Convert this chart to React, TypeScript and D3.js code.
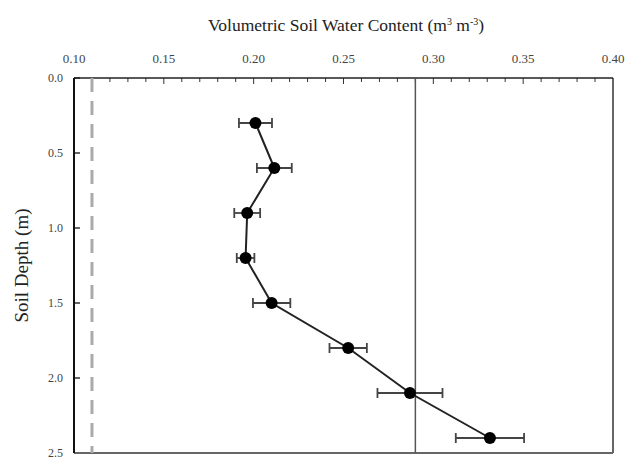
import React from "react";
import * as d3 from "d3";

const depths = [0.3, 0.6, 0.9, 1.2, 1.5, 1.8, 2.1, 2.4];
const swc = [0.201, 0.2115, 0.1964, 0.1955, 0.21, 0.2526, 0.287, 0.3315];
const swcErr = [0.0092, 0.0097, 0.0072, 0.0049, 0.0104, 0.0104, 0.0181, 0.019];
const xTicks = [0.1, 0.15, 0.2, 0.25, 0.3, 0.35, 0.4];
const yTicks = [0, 0.5, 1.0, 1.5, 2.0, 2.5];
const wiltingPoint = 0.11;
const fieldCapacity = 0.29;

const W = 631;
const H = 457;
const left = 74, right = 613, top = 78, bottom = 453;

export default function App() {
  const x = d3.scaleLinear().domain([0.1, 0.4]).range([left, right]);
  const y = d3.scaleLinear().domain([0, 2.5]).range([top, bottom]);
  const minor = d3.range(0.1, 0.4001, 0.01);
  const line = d3
    .line<number>()
    .x((d, i) => x(swc[i]))
    .y((d) => y(d));
  const font = "'Liberation Serif', 'Times New Roman', serif";
  return (
    <svg
      width={W}
      height={H}
      style={{ position: "absolute", left: 0, top: 0, background: "#fff" }}
      fontFamily={font}
    >
      <text x={346} y={31} textAnchor="middle" fontSize={17.5} fill="#222">
        Volumetric Soil Water Content (m
        <tspan dy={-6} fontSize={10}>3</tspan>
        <tspan dy={6}> m</tspan>
        <tspan dy={-6} fontSize={10}>-3</tspan>
        <tspan dy={6}>)</tspan>
      </text>
      <text
        transform={`translate(28,${(top + bottom) / 2}) rotate(-90)`}
        textAnchor="middle"
        fontSize={19}
        fill="#222"
      >
        Soil Depth (m)
      </text>
      {xTicks.map((t) => (
        <text key={t} x={x(t)} y={63} textAnchor="middle" fontSize={13} fill="#444">
          {t.toFixed(2)}
        </text>
      ))}
      {yTicks.map((t) => (
        <text key={t} x={63} y={y(t) + 4} textAnchor="end" fontSize={12} fill="#444">
          {t.toFixed(1)}
        </text>
      ))}
      {minor.map((t, i) => (
        <line
          key={i}
          x1={x(t)}
          x2={x(t)}
          y1={top}
          y2={top + (i % 5 === 0 ? 6 : 4)}
          stroke="#333"
          strokeWidth={1}
        />
      ))}
      {yTicks.map((t) => (
        <line key={t} x1={left} x2={left + 6} y1={y(t)} y2={y(t)} stroke="#333" strokeWidth={1.5} />
      ))}
      <line x1={left} x2={right} y1={bottom} y2={bottom} stroke="#666" strokeWidth={2} />
      <line x1={right} x2={right} y1={top} y2={bottom} stroke="#666" strokeWidth={2} />
      <line x1={left} x2={right} y1={top} y2={top} stroke="#222" strokeWidth={1.5} />
      <line x1={left} x2={left} y1={top} y2={bottom} stroke="#111" strokeWidth={2} />
      <line
        x1={x(wiltingPoint)}
        x2={x(wiltingPoint)}
        y1={top}
        y2={bottom}
        stroke="#aaa"
        strokeWidth={3}
        strokeDasharray="14,9"
      />
      <line
        x1={x(fieldCapacity)}
        x2={x(fieldCapacity)}
        y1={top}
        y2={bottom}
        stroke="#555"
        strokeWidth={1.5}
      />
      <path d={line(depths) || ""} fill="none" stroke="#222" strokeWidth={2} />
      {depths.map((d, i) => {
        const cy = y(d);
        const x0 = x(swc[i] - swcErr[i]);
        const x1 = x(swc[i] + swcErr[i]);
        return (
          <g key={i} stroke="#444" strokeWidth={1.8}>
            <line x1={x0} x2={x1} y1={cy} y2={cy} />
            <line x1={x0} x2={x0} y1={cy - 5} y2={cy + 5} />
            <line x1={x1} x2={x1} y1={cy - 5} y2={cy + 5} />
          </g>
        );
      })}
      {depths.map((d, i) => (
        <circle key={i} cx={x(swc[i])} cy={y(d)} r={6} fill="#000" />
      ))}
    </svg>
  );
}
